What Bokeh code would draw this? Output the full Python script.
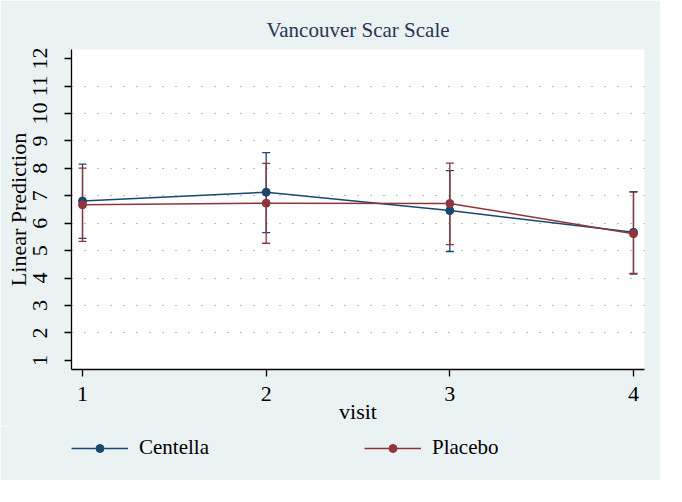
from bokeh.plotting import figure
from bokeh.models import (ColumnDataSource, Whisker, TeeHead, Legend, LegendItem,
                          FixedTicker, Range1d, Title)
from bokeh.layouts import column
from bokeh.embed import file_html
from bokeh.resources import INLINE

visits = [1, 2, 3, 4]
centella = [6.81, 7.13, 6.46, 5.67]
centella_lo = [5.45, 5.66, 4.97, 4.15]
centella_hi = [8.15, 8.57, 7.92, 7.15]
placebo = [6.67, 6.73, 6.72, 5.62]
placebo_lo = [5.34, 5.27, 5.22, 4.17]
placebo_hi = [8.01, 8.18, 8.19, 7.13]
y_ticks = list(range(1, 13))
grid_ticks = list(range(2, 12))
series_names = ["Centella", "Placebo"]

BLUE = "#1a476f"
RED = "#90353b"
BG = "#eaf2f3"
FONT = "Liberation Serif"

p = figure(width=660, height=426, output_backend="svg", toolbar_location=None,
           x_range=Range1d(0.94, 4.06), y_range=Range1d(0.67, 12.33),
           min_border_left=71, min_border_right=16, min_border_top=49,
           min_border_bottom=54)
p.background_fill_color = "white"
p.border_fill_color = BG
p.outline_line_color = None

p.title = Title(text="Vancouver Scar Scale", align="center", text_font=FONT,
                text_font_size="21px", text_font_style="normal",
                text_color="#2b3553", standoff=15)

src_c = ColumnDataSource(dict(x=visits, y=centella, lo=centella_lo, hi=centella_hi))
src_p = ColumnDataSource(dict(x=visits, y=placebo, lo=placebo_lo, hi=placebo_hi))

for src, col in ((src_c, BLUE), (src_p, RED)):
    w = Whisker(source=src, base="x", lower="lo", upper="hi", line_color=col,
                line_width=1.3,
                upper_head=TeeHead(size=8, line_color=col, line_width=1.3),
                lower_head=TeeHead(size=8, line_color=col, line_width=1.3))
    p.add_layout(w)

p.line("x", "y", source=src_c, line_color=BLUE, line_width=1.5)
p.scatter("x", "y", source=src_c, size=8, fill_color=BLUE, line_color=BLUE)
p.line("x", "y", source=src_p, line_color=RED, line_width=1.5)
p.scatter("x", "y", source=src_p, size=8, fill_color=RED, line_color=RED)

# axes
p.xaxis.ticker = FixedTicker(ticks=visits)
p.yaxis.ticker = FixedTicker(ticks=y_ticks)
for ax in (p.xaxis[0], p.yaxis[0]):
    ax.major_tick_in = 0
    ax.major_tick_out = 7
    ax.minor_tick_in = 0
    ax.minor_tick_out = 0
    ax.axis_line_color = "black"
    ax.major_tick_line_color = "black"
    ax.axis_line_width = 1.3
    ax.major_tick_line_width = 1.3
    ax.major_label_text_font = FONT
    ax.major_label_text_font_size = "22px"
    ax.major_label_text_color = "black"
    ax.axis_label_text_font = FONT
    ax.axis_label_text_font_size = "22px"
    ax.axis_label_text_font_style = "normal"
    ax.axis_label_text_color = "black"
p.xaxis.axis_label = "visit"
p.yaxis.axis_label = "Linear Prediction"
p.yaxis.major_label_orientation = "vertical"
p.xaxis.major_label_standoff = 10
p.xaxis.axis_label_standoff = -5
p.yaxis.major_label_standoff = 17
p.yaxis.axis_label_standoff = 0

p.xgrid.grid_line_color = None
p.ygrid.ticker = FixedTicker(ticks=grid_ticks)
p.ygrid.grid_line_color = "#777777"
p.ygrid.grid_line_dash = "1 12"
p.ygrid.grid_line_width = 1.2

# legend strip below the plot (same background); its ranges keep the
# series themselves out of view so only the legend keys show
lg = figure(width=660, height=54, output_backend="svg", toolbar_location=None,
            x_range=Range1d(0, 1), y_range=Range1d(100, 101),
            x_axis_type=None, y_axis_type=None,
            min_border_left=71, min_border_right=16, min_border_top=0,
            min_border_bottom=0)
lg.background_fill_color = BG
lg.border_fill_color = BG
lg.outline_line_color = None
lg.xgrid.visible = False
lg.ygrid.visible = False

items = []
for name, ys, col in zip(series_names, (centella, placebo), (BLUE, RED)):
    r1 = lg.line(x=visits, y=ys, line_color=col, line_width=1.5)
    r2 = lg.scatter(x=visits, y=ys, size=8, fill_color=col, line_color=col)
    items.append(LegendItem(label=name, renderers=[r1, r2]))

legend = Legend(items=items, orientation="horizontal", location=(0, 20),
                glyph_width=57, glyph_height=20, label_standoff=11, spacing=155,
                label_text_font=FONT, label_text_font_size="21px",
                label_text_color="black",
                border_line_color=None, background_fill_alpha=0,
                padding=0, margin=0)
lg.add_layout(legend, "center")

layout = column(p, lg, spacing=0,
                styles={"background-image": f"linear-gradient({BG}, {BG})",
                        "background-repeat": "no-repeat",
                        "background-position": "8px 8px",
                        "background-size": "652px 472px"})
open("out.html", "w").write(file_html(layout, INLINE))
